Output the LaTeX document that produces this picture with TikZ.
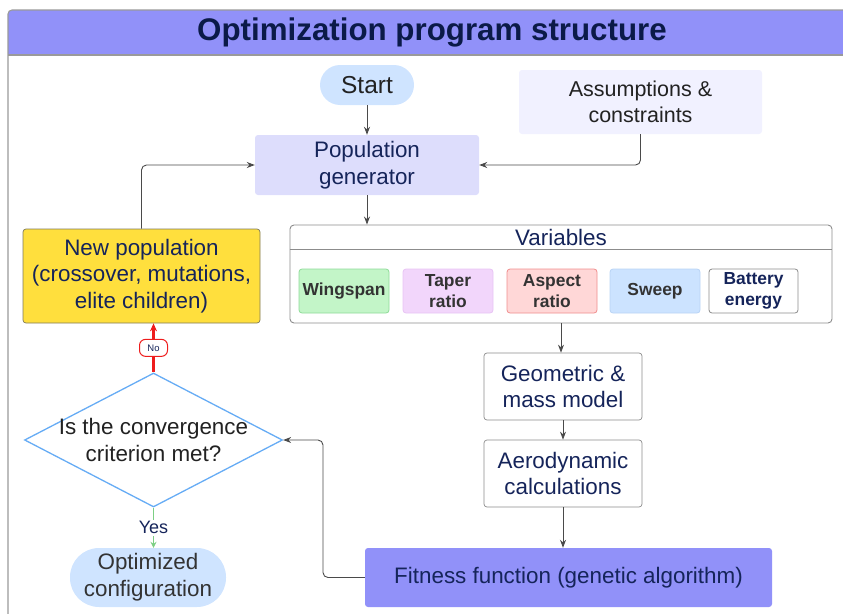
\documentclass[tikz,border=0pt]{standalone}
\usepackage{fontspec}
\setmainfont{Liberation Sans}
\usetikzlibrary{shapes.geometric,arrows.meta,calc}

\definecolor{navy}{HTML}{15245A}
\definecolor{titletext}{HTML}{0B1A48}
\definecolor{darktext}{HTML}{222222}
\definecolor{chiptext}{HTML}{333333}
\definecolor{titlebar}{HTML}{9191F9}
\definecolor{framegray}{HTML}{9A9A9A}
\definecolor{boxgray}{HTML}{8C8C8C}
\definecolor{linegray}{HTML}{4A4A4A}
\definecolor{startblue}{HTML}{CFE4FF}
\definecolor{asmfill}{HTML}{F1F1FF}
\definecolor{popfill}{HTML}{DDDDFC}
\definecolor{newpopfill}{HTML}{FFDF3D}
\definecolor{newpopline}{HTML}{7F7A5A}
\definecolor{diablue}{HTML}{66ACF5}
\definecolor{noRed}{HTML}{EE1C1C}
\definecolor{yesGreen}{HTML}{7CCF84}
\definecolor{wingfill}{HTML}{C3F5C8}
\definecolor{wingline}{HTML}{8EDB98}
\definecolor{taperfill}{HTML}{F2D6FB}
\definecolor{taperline}{HTML}{E8C4F4}
\definecolor{aspfill}{HTML}{FFD7D7}
\definecolor{aspline}{HTML}{F08E8E}
\definecolor{sweepfill}{HTML}{CCE3FF}
\definecolor{sweepline}{HTML}{B9D4F5}

\newcommand\bodyfont{\fontsize{22.4}{26.8}\selectfont}
\newcommand\asmfont{\fontsize{21.5}{26.5}\selectfont}
\newcommand\titlefont{\fontsize{31.3}{37}\selectfont\bfseries}
\newcommand\startfont{\fontsize{24.5}{28}\selectfont}
\newcommand\chipfont{\fontsize{17.4}{21}\selectfont\bfseries}
\newcommand\tinyfont{\fontsize{9.5}{11}\selectfont}
\newcommand\yesfont{\fontsize{18}{21}\selectfont}

\begin{document}
\begin{tikzpicture}[x=1pt,y=-1pt,
  flow/.style={draw=linegray, line width=0.9pt, rounded corners=5pt,
    -{Stealth[length=8pt,width=6pt]}},
  card/.style={rounded corners=3pt, align=center, inner sep=0pt,
    font=\bodyfont, text=navy},
  chip/.style={rounded corners=3pt, align=center, inner sep=0pt,
    minimum width=90pt, minimum height=44pt, font=\chipfont,
    text=chiptext, line width=0.8pt},
  pill/.style={card, fill=startblue},
]
\clip (0,0) rectangle (843,613);

% frame and title bar
\begin{scope}
  \clip (0,0) rectangle (843,55);
  \fill[titlebar, rounded corners=4pt] (8,10) rectangle (880,120);
\end{scope}
\draw[framegray, line width=1.1pt, rounded corners=4pt] (8,10) rectangle (880,700);
\draw[framegray, line width=1.1pt] (8,55) -- (880,55);
\node[font=\titlefont, text=titletext] (title) at (432,32) {Optimization program structure};

% upper blocks
\node[pill, rounded corners=20pt, minimum width=94pt, minimum height=40pt,
  font=\startfont, text=darktext] (start) at (367,85) {Start};
\node[card, fill=asmfill, minimum width=243pt, minimum height=64pt,
  font=\asmfont, text=darktext] (asm) at (640.5,102) {Assumptions \&\\constraints};
\node[card, fill=popfill, minimum width=224pt, minimum height=60pt]
  (pop) at (367,165) {Population\\generator};
\node[card, fill=newpopfill, draw=newpopline, line width=0.7pt,
  minimum width=237pt, minimum height=94pt]
  (newpop) at (141.5,276) {New population\\(crossover, mutations,\\elite children)};

% variables container
\node[draw=boxgray, line width=0.9pt, rounded corners=4pt,
  minimum width=542pt, minimum height=98pt, inner sep=0pt] (vars) at (561,274) {};
\draw[boxgray, line width=0.9pt] ($(vars.north west)+(0,25)$) -- ($(vars.north east)+(0,25)$);
\node[font=\bodyfont, text=navy] (varstitle) at (561,237) {Variables};
\node[chip, fill=wingfill, draw=wingline] (wing) at (344,291) {Wingspan};
\node[chip, fill=taperfill, draw=taperline] (taper) at (448,291) {Taper\\ratio};
\node[chip, fill=aspfill, draw=aspline] (aspect) at (552,291) {Aspect\\ratio};
\node[chip, fill=sweepfill, draw=sweepline] (sweep) at (655,291) {Sweep};
\node[chip, fill=white, draw=boxgray, minimum width=89pt, text=navy]
  (battery) at (753.5,291) {Battery\\energy};

% model chain
\node[card, draw=boxgray, line width=0.7pt, minimum width=158pt, minimum height=67pt]
  (geo) at (563,386.5) {Geometric \&\\mass model};
\node[card, draw=boxgray, line width=0.7pt, minimum width=158pt, minimum height=67pt]
  (aero) at (563,473.5) {Aerodynamic\\calculations};
\node[card, fill=titlebar, minimum width=407pt, minimum height=59pt]
  (fit) at (568.5,577.5) {Fitness function (genetic algorithm)};

% decision
\node[diamond, draw=diablue, fill=white, line width=1.3pt, inner sep=0pt,
  minimum width=258pt, minimum height=134pt] (dia) at (153.5,440) {};
\node[font=\bodyfont, text=darktext, align=center] (diatext) at (dia)
  {Is the convergence\\criterion met?};
\node[pill, rounded corners=29pt, minimum width=156pt, minimum height=59pt,
  text=chiptext] (opt) at (148,577.5) {Optimized\\configuration};

% connectors
\draw[flow] (start) -- (pop);
\draw[flow] (asm.south) |- (pop.east);
\draw[flow] (pop.south) -- (pop.south |- vars.north);
\draw[flow] (newpop.north) |- (pop.west);
\draw[flow] (vars.south) -- (vars.south |- geo.north);
\draw[flow] (geo) -- (aero);
\draw[flow] (aero.south) -- (aero.south |- fit.north);
\coordinate (bend) at (323,577.5);
\draw[flow] (fit.west) -- (bend) |- (dia.east);
\draw[noRed, line width=2.4pt, -{Stealth[length=8pt,width=7pt]}]
  (dia.north) -- node[draw=noRed, fill=white, line width=1pt, rounded corners=6pt,
    font=\tinyfont, text=navy, inner sep=2.5pt, minimum width=28pt, minimum height=17pt]
    (nolabel) {No} (dia.north |- newpop.south);
\draw[yesGreen, line width=1.2pt, -{Stealth[length=6pt,width=6pt]}]
  (dia.south) -- node[fill=white, font=\yesfont, text=navy, inner sep=1.5pt]
    (yeslabel) {Yes} (dia.south |- opt.north);
\end{tikzpicture}
\end{document}
